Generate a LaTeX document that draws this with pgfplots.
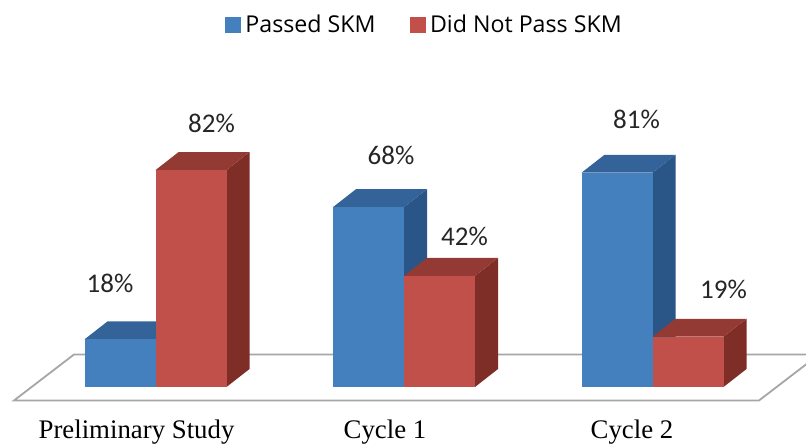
\documentclass[border=0pt]{standalone}
\usepackage{pgfplots}
\pgfplotsset{compat=1.18}
\usepackage{fontspec}
\setmainfont{Carlito}
\newfontfamily\serifx{Liberation Serif}
\newfontfamily\legfont{Open Sans}
\definecolor{bluef}{HTML}{4580BE}
\definecolor{bluet}{HTML}{34639A}
\definecolor{blues}{HTML}{2A5587}
\definecolor{redf}{HTML}{C2504A}
\definecolor{redt}{HTML}{943A34}
\definecolor{reds}{HTML}{7E2D27}
\definecolor{floorc}{HTML}{A6A6A6}
\begin{document}
\begin{tikzpicture}
\clip (0,0) rectangle (806pt,445pt);
\begin{axis}[
  scale only axis, width=806pt, height=445pt,
  xmin=0, xmax=806, ymin=-21.93, ymax=146.31,
  axis line style={draw=none}, major tick length=0pt,
  ytick=\empty,
  xtick={136.5,385,632},
  xticklabels={Preliminary Study,Cycle 1,Cycle 2},
  xticklabel style={font=\serifx\fontsize{26.8}{29}\selectfont, anchor=base, inner sep=0pt, yshift=7pt},
  legend style={at={(0.2792,0.9455)}, anchor=west, draw=none, fill=none, inner sep=0pt, outer sep=0pt,
    font=\legfont\fontsize{23.2}{26}\selectfont, legend cell align=left,
    /tikz/every even column/.append style={column sep=32pt}},
  legend columns=2,
]
\addlegendimage{legend image code/.code={\fill[bluef] (0pt,-7.5pt) rectangle (15pt,7.5pt);\path (18pt,0pt);}}
\addlegendentry{Passed SKM}
\addlegendimage{legend image code/.code={\fill[redf] (0pt,-7.5pt) rectangle (15pt,7.5pt);\path (18pt,0pt);}}
\addlegendentry{Did Not Pass SKM}
% floor
\addplot[forget plot, fill=white, draw=floorc, line width=1.8pt] coordinates {(14,-5.1) (759,-5.1) (819,12.29) (74,12.29)} --cycle;
% Preliminary Study
\addplot[forget plot, fill=blues, draw=none] coordinates {(155.5,0) (178.5,6.8) (178.5,24.8) (155.5,18)} --cycle;
\addplot[forget plot, fill=bluet, draw=none] coordinates {(84.5,18) (107.5,24.8) (178.5,24.8) (155.5,18)} --cycle;
\addplot[forget plot, ybar, bar width=71, bar shift=-35.5, fill=bluef, draw=none] coordinates {(155.5,18)};
\addplot[forget plot, fill=reds, draw=none] coordinates {(226.5,0) (249.5,6.8) (249.5,88.8) (226.5,82)} --cycle;
\addplot[forget plot, fill=redt, draw=none] coordinates {(155.5,82) (178.5,88.8) (249.5,88.8) (226.5,82)} --cycle;
\addplot[forget plot, ybar, bar width=71, bar shift=35.5, fill=redf, draw=none] coordinates {(155.5,82)};
% Cycle 1
\addplot[forget plot, fill=blues, draw=none] coordinates {(404,0) (427,6.8) (427,74.8) (404,68)} --cycle;
\addplot[forget plot, fill=bluet, draw=none] coordinates {(333,68) (356,74.8) (427,74.8) (404,68)} --cycle;
\addplot[forget plot, ybar, bar width=71, bar shift=-35.5, fill=bluef, draw=none] coordinates {(404,68)};
\addplot[forget plot, fill=reds, draw=none] coordinates {(475,0) (498,6.8) (498,48.8) (475,42)} --cycle;
\addplot[forget plot, fill=redt, draw=none] coordinates {(404,42) (427,48.8) (498,48.8) (475,42)} --cycle;
\addplot[forget plot, ybar, bar width=71, bar shift=35.5, fill=redf, draw=none] coordinates {(404,42)};
% Cycle 2
\addplot[forget plot, fill=blues, draw=none] coordinates {(652.5,0) (675.5,6.8) (675.5,87.8) (652.5,81)} --cycle;
\addplot[forget plot, fill=bluet, draw=none] coordinates {(581.5,81) (604.5,87.8) (675.5,87.8) (652.5,81)} --cycle;
\addplot[forget plot, ybar, bar width=71, bar shift=-35.5, fill=bluef, draw=none] coordinates {(652.5,81)};
\addplot[forget plot, fill=reds, draw=none] coordinates {(723.5,0) (746.5,6.8) (746.5,25.8) (723.5,19)} --cycle;
\addplot[forget plot, fill=redt, draw=none] coordinates {(652.5,19) (675.5,25.8) (746.5,25.8) (723.5,19)} --cycle;
\addplot[forget plot, ybar, bar width=71, bar shift=35.5, fill=redf, draw=none] coordinates {(652.5,19)};
% value labels
\tikzset{vl/.style={font=\fontsize{27}{29}\selectfont, text=black!85, inner sep=0pt}}
\node[vl] at (axis cs:110,39.3) {18\%};
\node[vl] at (axis cs:211.5,99.5) {82\%};
\node[vl] at (axis cs:391,87.5) {68\%};
\node[vl] at (axis cs:464.5,56.8) {42\%};
\node[vl] at (axis cs:636.5,101.3) {81\%};
\node[vl] at (axis cs:723.5,37) {19\%};
\end{axis}
\end{tikzpicture}
\end{document}
